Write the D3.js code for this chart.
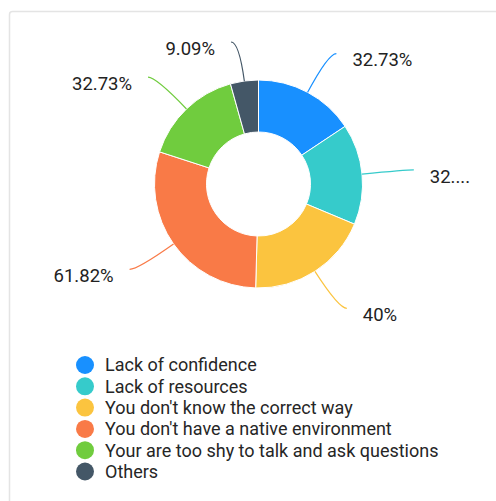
<!DOCTYPE html>
<html>
<head>
<meta charset="utf-8">
<script src="https://cdn.jsdelivr.net/npm/d3@7"></script>
<style>
  body { margin: 0; background: #fff; font-family: Roboto, "Noto Sans", sans-serif; }
  svg { display: block; }
</style>
</head>
<body>
<div id="chart"></div>
<script>
// données du graphique
const categories = [
  "Lack of confidence",
  "Lack of resources",
  "You don't know the correct way",
  "You don't have a native environment",
  "Your are too shy to talk and ask questions",
  "Others"
]
const percents = [32.73, 32.73, 40, 61.82, 32.73, 9.09]
const colors = ["#1890ff", "#36cbcb", "#fbc43f", "#f97a47", "#70cc3e", "#445767"]

const width = 496, height = 501
const cx = 258.5, cy = 184
const outerR = 104, innerR = 52
const labelRight = 479   // au-delà, le texte est tronqué
const labelTop = 42      // les lignes ne montent pas plus haut

const svg = d3.select('#chart')
    .append('svg')
    .attr('width', width)
    .attr('height', height)

// cadre gris
svg.append('rect')
    .attr('x', 9.5)
    .attr('y', 11.5)
    .attr('width', width + 20)
    .attr('height', height + 20)
    .attr('rx', 3)
    .attr('fill', 'none')
    .attr('stroke', '#e4e4e4')
    .attr('stroke-width', 1.5)

const data = categories.map((c, i) => ({name: c, value: percents[i], color: colors[i]}))

const pie = d3.pie().sort(null).value(d => d.value)
const arcs = pie(data)

const arc = d3.arc().innerRadius(innerR).outerRadius(outerR)

const g = svg.append('g').attr('transform', `translate(${cx},${cy})`)

g.selectAll('path.slice')
    .data(arcs)
    .join('path')
    .attr('class', 'slice')
    .attr('d', arc)
    .attr('fill', d => d.data.color)
    .attr('stroke', '#fff')
    .attr('stroke-width', 1)

// lignes de rappel + étiquettes
const radial = 44, horiz = 8, gap = 16

arcs.forEach(d => {
    const a = (d.startAngle + d.endAngle) / 2
    const sx = Math.sin(a), sy = -Math.cos(a)
    const side = sx >= 0 ? 1 : -1
    const p0 = [outerR * sx, outerR * sy]
    let t = radial
    // limite haute
    if (cy + p0[1] + t * sy < labelTop) t = (labelTop - cy - p0[1]) / sy
    const p1 = [p0[0] + t * sx, p0[1] + t * sy]
    const p2 = [p1[0] + side * horiz, p1[1]]

    const path = d3.path()
    path.moveTo(p0[0], p0[1])
    path.quadraticCurveTo(p1[0], p1[1], p2[0], p2[1])
    g.append('path')
        .attr('d', path.toString())
        .attr('fill', 'none')
        .attr('stroke', d.data.color)
        .attr('stroke-width', 1.2)

    const txt = g.append('text')
        .attr('x', p2[0] + side * gap)
        .attr('y', p2[1] + 12.8)
        .attr('text-anchor', side > 0 ? 'start' : 'end')
        .attr('font-size', 18.5)
        .attr('fill', '#222')
        .text(d.data.value + '%')

    // tronquer si ça dépasse à droite
    if (side > 0) {
        const full = d.data.value + '%'
        const maxW = labelRight - (cx + p2[0] + gap)
        let n = full.length
        while (txt.node().getComputedTextLength() > maxW && n > 1) {
            n--
            txt.text(full.slice(0, n) + '...')
        }
    }
})

// légende
const legend = svg.append('g').attr('transform', 'translate(85,365)')
const rows = legend.selectAll('g')
    .data(data)
    .join('g')
    .attr('transform', (d, i) => `translate(0,${i * 21.3})`)

rows.append('circle')
    .attr('r', 9)
    .attr('fill', d => d.color)

rows.append('text')
    .attr('x', 20)
    .attr('y', 6.4)
    .attr('font-size', 18)
    .attr('fill', '#262626')
    .text(d => d.name)
</script>
</body>
</html>
